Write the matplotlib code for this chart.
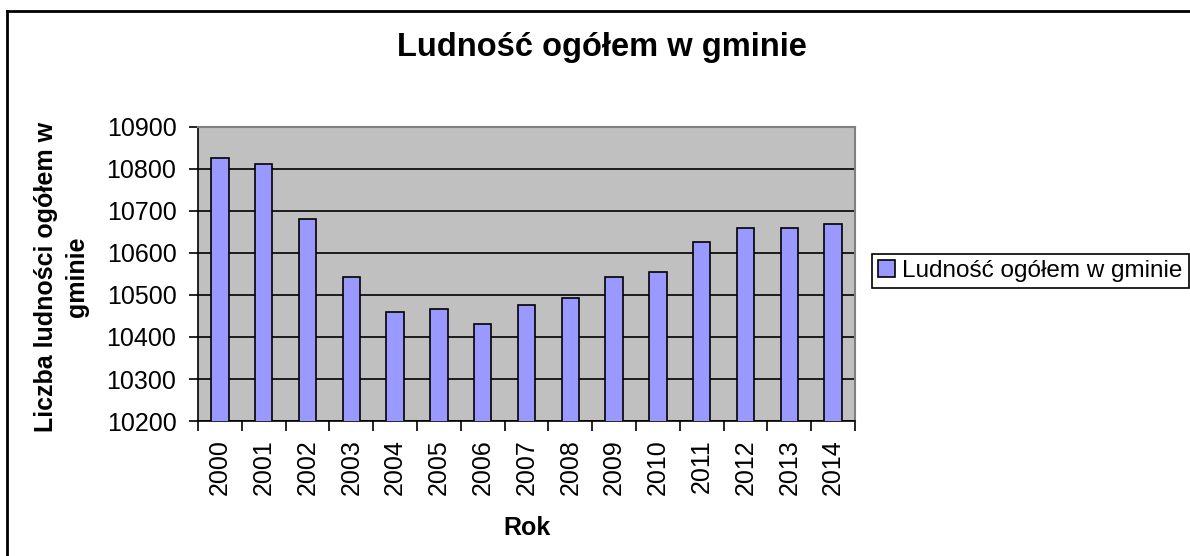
import numpy as np
import matplotlib.pyplot as plt
from matplotlib.lines import Line2D

plt.rcParams['font.family'] = ['Liberation Sans', 'DejaVu Sans']

# data
years = ['2000', '2001', '2002', '2003', '2004', '2005', '2006', '2007',
         '2008', '2009', '2010', '2011', '2012', '2013', '2014']
population = [10825, 10811, 10682, 10542, 10459, 10466, 10430, 10477,
              10492, 10544, 10555, 10625, 10659, 10659, 10670]
y_ticks = [10200, 10300, 10400, 10500, 10600, 10700, 10800, 10900]

series_name = 'Ludność ogółem w gminie'

fig = plt.figure(figsize=(11.9, 5.56), dpi=100)
ax = fig.add_axes([0.1664, 0.2428, 0.5521, 0.5288])
ax.set_facecolor('#C0C0C0')

x = np.arange(len(years))
ax.bar(x, population, width=0.4, color='#9999FF', edgecolor='black',
       linewidth=1.2, zorder=3, label=series_name)

ax.set_ylim(10200, 10900)
ax.set_xlim(-0.5, len(years) - 0.5)
ax.set_yticks(y_ticks)
ax.yaxis.grid(True, color='black', linewidth=1.2, zorder=1)
ax.set_axisbelow(True)

# labels at bar centers, ticks at category boundaries
ax.set_xticks(x)
ax.set_xticklabels(years, rotation=90)
ax.set_xticks(np.arange(-0.5, len(years)), minor=True)
ax.tick_params(axis='x', which='major', length=0, pad=13, labelsize=18)
ax.tick_params(axis='x', which='minor', length=7, width=1.2, direction='out')
ax.tick_params(axis='y', length=6.5, width=1.2, direction='out', pad=9, labelsize=18)

for s in ['left', 'bottom']:
    ax.spines[s].set_color('black')
    ax.spines[s].set_linewidth(1.2)
for s in ['top', 'right']:
    ax.spines[s].set_color('#808080')
    ax.spines[s].set_linewidth(1.5)

ax.set_xlabel('Rok', fontsize=18, fontweight='bold')
ax.xaxis.set_label_coords(0.5, -0.322)
ax.set_ylabel('Liczba ludności ogółem w\ngminie', fontsize=18, fontweight='bold',
              linespacing=1.35)
ax.yaxis.set_label_coords(-0.166, 0.49)

fig.text(0.506, 0.915, series_name, ha='center', va='center',
         fontsize=23.5, fontweight='bold')

leg = fig.legend(loc='upper left', bbox_to_anchor=(872 / 1190, 1 - 254 / 556),
                 fontsize=17.5, frameon=True, fancybox=False, framealpha=1,
                 edgecolor='black', borderaxespad=0, handlelength=0.7,
                 handleheight=0.7, handletextpad=0.3, borderpad=0.25)
leg.get_frame().set_linewidth(1.2)

# outer chart border (only top and left edges visible)
fig.add_artist(Line2D([7 / 1190, 7 / 1190], [0, 1 - 11 / 556], color='black',
                      linewidth=2, transform=fig.transFigure))
fig.add_artist(Line2D([7 / 1190, 1], [1 - 11 / 556, 1 - 11 / 556], color='black',
                      linewidth=2, transform=fig.transFigure))

fig.savefig('out.png', dpi=100, facecolor='white')
